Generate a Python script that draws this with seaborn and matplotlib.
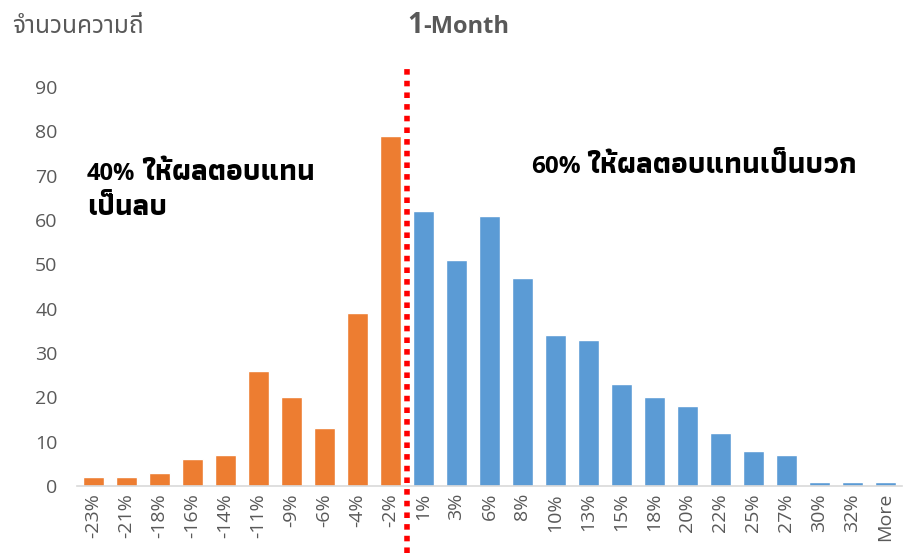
import matplotlib
matplotlib.use("Agg")
import matplotlib.pyplot as plt
import matplotlib.patheffects as pe
import seaborn as sns
import pandas as pd
from matplotlib import font_manager
from matplotlib.font_manager import FontProperties
from matplotlib.ft2font import FT2Font

# ---------------- data ----------------
categories = ["-23%", "-21%", "-18%", "-16%", "-14%", "-11%", "-9%", "-6%", "-4%", "-2%",
              "1%", "3%", "6%", "8%", "10%", "13%", "15%", "18%", "20%", "22%", "25%",
              "27%", "30%", "32%", "More"]
negative_counts = [2, 2, 3, 6, 7, 26, 20, 13, 39, 79]
positive_counts = [62, 51, 61, 47, 34, 33, 23, 20, 18, 12, 8, 7, 1, 1, 1]
y_ticks = [0, 10, 20, 30, 40, 50, 60, 70, 80, 90]
title_num = "1"
title_rest = "-Month"
y_label = "จำนวนความถี่"
neg_pct = "40%"
neg_text_1 = "ให้ผลตอบแทน"
neg_text_2 = "เป็นลบ"
pos_pct = "60%"
pos_text = "ให้ผลตอบแทนเป็นบวก"

# ---------------- fonts ----------------
def wnum(w):
    if isinstance(w, str):
        return font_manager.weight_dict.get(w.lower(), 400)
    return int(w)

thai = []
for f in font_manager.fontManager.ttflist:
    try:
        ft = FT2Font(f.fname)
        if ft.get_char_index(0x0E08) and ft.get_char_index(0x0E27) and f.style == "normal":
            thai.append(f)
    except Exception:
        pass

def rank(f):
    n = f.name
    return (0 if "Noto Sans Thai" in n else 1, 1 if "Looped" in n else 0,
            0 if "UI" not in n else 1, n)

thai.sort(key=rank)
reg = [f for f in thai if 350 <= wnum(f.weight) <= 500]
bld = [f for f in thai if 600 <= wnum(f.weight) <= 800]
thai_reg_file = reg[0].fname if reg else (thai[0].fname if thai else None)
thai_bold_file = bld[0].fname if bld else None
fake_bold = thai_bold_file is None
if fake_bold:
    thai_bold_file = thai_reg_file

sns.set_theme(style="white")
family = ["Open Sans"] + ([thai[0].name] if thai else []) + ["DejaVu Sans"]
plt.rcParams["font.family"] = family

def thai_fp(bold, size):
    fname = thai_bold_file if bold else thai_reg_file
    if fname:
        return FontProperties(fname=fname, size=size)
    return FontProperties(family=family, size=size, weight="bold" if bold else "normal")

bold_fx = [pe.withStroke(linewidth=1.1, foreground="black")] if fake_bold else None

# ---------------- frame ----------------
df = pd.DataFrame({
    "bin": categories,
    "count": negative_counts + positive_counts,
    "side": ["neg"] * len(negative_counts) + ["pos"] * len(positive_counts),
})

fig = plt.figure(figsize=(9.04, 5.53), dpi=100)
ax = fig.add_axes([77 / 904, 67 / 553, 825 / 904, 399 / 553])

sns.barplot(data=df, x="bin", y="count", hue="side",
            palette={"neg": "#ED7D31", "pos": "#5B9BD5"},
            dodge=False, width=0.64, legend=False, ax=ax, saturation=1)

ax.set_ylim(0, 90)
ax.set_xlim(-0.5, len(categories) - 0.5)
ax.set_yticks(y_ticks)
ax.set_xlabel("")
ax.set_ylabel("")
for s in ["top", "right", "left"]:
    ax.spines[s].set_visible(False)
ax.spines["bottom"].set_color("#D9D9D9")
ax.spines["bottom"].set_linewidth(1.2)
ax.tick_params(axis="both", length=0, colors="#595959", labelsize=14)
ax.tick_params(axis="y", pad=14)
ax.tick_params(axis="x", pad=5)
plt.setp(ax.get_xticklabels(), rotation=90)
ax.grid(False)

# divider between negative and positive bins
ax.axvline(len(negative_counts) - 0.5, ymin=-0.168, ymax=1.055, color="#FF0000",
           linestyle=(0, (1, 1.1)), linewidth=4, clip_on=False)

# y label (Thai)
fig.text(12 / 904, 1 - 33 / 553, y_label, color="#595959",
         fontproperties=thai_fp(False, 17.6), va="baseline", ha="left")

# title
t1 = fig.text(407 / 904, 1 - 33 / 553, title_num, color="#595959", fontsize=20,
              fontweight="bold", va="baseline", ha="left")
ax.annotate(title_rest, xy=(1, 1 - 33 / 553), xycoords=(t1, "figure fraction"),
            color="#595959", fontsize=17, fontweight="bold", va="baseline", ha="left")

# negative note
n1 = fig.text(87 / 904, 1 - 180 / 553, neg_pct, fontsize=17, fontweight="bold",
              color="black", va="baseline", ha="left")
ax.annotate(neg_text_1, xy=(1, 1 - 180 / 553), xycoords=(n1, "figure fraction"),
            xytext=(5, 0), textcoords="offset points",
            fontproperties=thai_fp(True, 21), color="black", va="baseline", ha="left",
            path_effects=bold_fx)
fig.text(87 / 904, 1 - 215 / 553, neg_text_2, fontproperties=thai_fp(True, 21),
         color="black", va="baseline", ha="left", path_effects=bold_fx)

# positive note
p1 = fig.text(531 / 904, 1 - 173 / 553, pos_pct, fontsize=17.5, fontweight="bold",
              color="black", va="baseline", ha="left")
ax.annotate(pos_text, xy=(1, 1 - 173 / 553), xycoords=(p1, "figure fraction"),
            xytext=(5, 0), textcoords="offset points",
            fontproperties=thai_fp(True, 21), color="black", va="baseline", ha="left",
            path_effects=bold_fx)

fig.savefig("out.png", dpi=100)
